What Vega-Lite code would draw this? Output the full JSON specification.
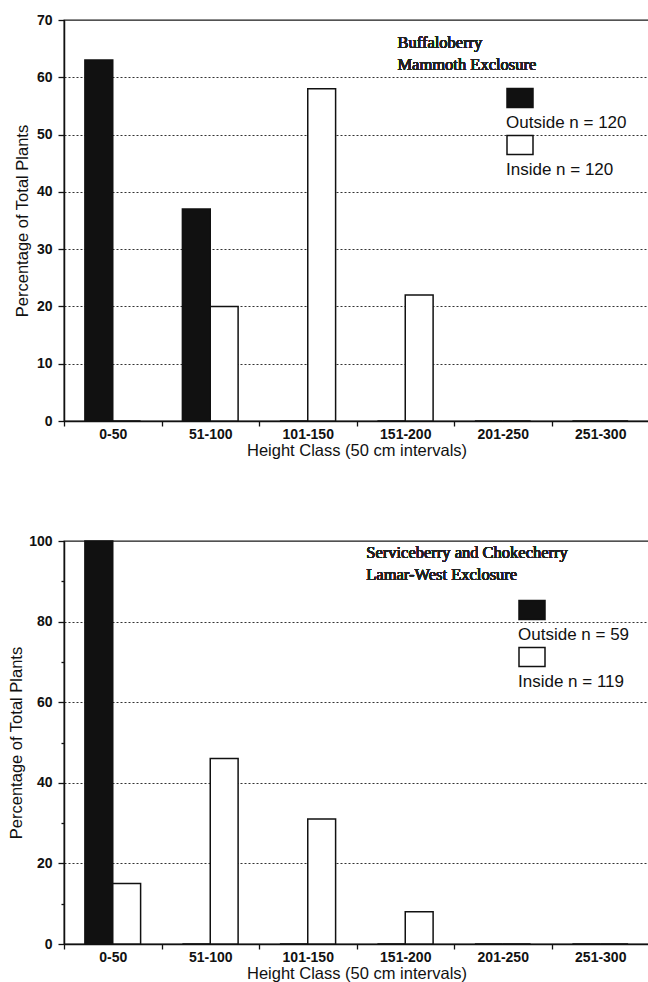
{
  "$schema": "https://vega.github.io/schema/vega-lite/v6.json",
  "padding": {"left": 7, "top": 12, "right": 0, "bottom": 0},
  "background": "white",
  "config": {
    "font": "Liberation Sans",
    "view": {"stroke": "#1a1a1a", "strokeWidth": 1.3},
    "axis": {
      "domainColor": "#111", "domainWidth": 1.5,
      "tickColor": "#111", "tickWidth": 1.3,
      "labelColor": "#111", "titleColor": "#111",
      "labelFont": "Liberation Sans", "labelFontSize": 14, "labelFontWeight": "bold",
      "titleFont": "Liberation Sans", "titleFontSize": 16.5, "titleFontWeight": "normal"
    }
  },
  "datasets": {
    "buffaloberry": [
      {"cls": "0-50", "group": "Outside", "pct": 63},
      {"cls": "0-50", "group": "Inside", "pct": 0},
      {"cls": "51-100", "group": "Outside", "pct": 37},
      {"cls": "51-100", "group": "Inside", "pct": 20},
      {"cls": "101-150", "group": "Outside", "pct": 0},
      {"cls": "101-150", "group": "Inside", "pct": 58},
      {"cls": "151-200", "group": "Outside", "pct": 0},
      {"cls": "151-200", "group": "Inside", "pct": 22},
      {"cls": "201-250", "group": "Outside", "pct": 0},
      {"cls": "201-250", "group": "Inside", "pct": 0},
      {"cls": "251-300", "group": "Outside", "pct": 0},
      {"cls": "251-300", "group": "Inside", "pct": 0}
    ],
    "serviceberry": [
      {"cls": "0-50", "group": "Outside", "pct": 100},
      {"cls": "0-50", "group": "Inside", "pct": 15},
      {"cls": "51-100", "group": "Outside", "pct": 0},
      {"cls": "51-100", "group": "Inside", "pct": 46},
      {"cls": "101-150", "group": "Outside", "pct": 0},
      {"cls": "101-150", "group": "Inside", "pct": 31},
      {"cls": "151-200", "group": "Outside", "pct": 0},
      {"cls": "151-200", "group": "Inside", "pct": 8},
      {"cls": "201-250", "group": "Outside", "pct": 0},
      {"cls": "201-250", "group": "Inside", "pct": 0},
      {"cls": "251-300", "group": "Outside", "pct": 0},
      {"cls": "251-300", "group": "Inside", "pct": 0}
    ]
  },
  "spacing": 73,
  "resolve": {
    "scale": {"color": "independent", "x": "independent", "y": "independent", "xOffset": "independent"},
    "legend": {"color": "independent"}
  },
  "vconcat": [
    {
      "width": 585,
      "height": 401,
      "data": {"name": "buffaloberry"},
      "layer": [
        {
          "mark": {"type": "bar", "stroke": "#111", "strokeWidth": 1.5, "opacity": 1},
          "encoding": {
            "x": {
              "field": "cls", "type": "nominal",
              "sort": ["0-50", "51-100", "101-150", "151-200", "201-250", "251-300"],
              "scale": {"paddingInner": 0, "paddingOuter": 0},
              "title": "Height Class (50 cm intervals)",
              "axis": {"tickBand": "extent", "tickSize": 5, "labelPadding": 1, "labelAngle": 0, "titlePadding": 1, "grid": false}
            },
            "xOffset": {
              "field": "group", "type": "nominal", "sort": ["Outside", "Inside"],
              "scale": {"paddingInner": 0, "paddingOuter": 0.75}
            },
            "y": {
              "field": "pct", "type": "quantitative",
              "scale": {"domain": [0, 70], "nice": false},
              "title": "Percentage of Total Plants",
              "axis": {
                "values": [0, 5, 10, 15, 20, 25, 30, 35, 40, 45, 50, 55, 60, 65, 70],
                "labelExpr": "datum.value % 10 === 0 ? datum.label : ''",
                "tickSize": {"condition": {"test": "datum.value % 10 === 0", "value": 6}, "value": 3},
                "labelPadding": 6, "titlePadding": 6,
                "grid": true, "gridDash": [2, 2], "gridColor": "#333", "gridWidth": 1,
                "gridOpacity": {"condition": {"test": "datum.value % 10 === 0 && datum.value > 0 && datum.value < 70", "value": 1}, "value": 0}
              }
            },
            "color": {
              "field": "group", "type": "nominal", "sort": ["Outside", "Inside"],
              "scale": {"domain": ["Outside", "Inside"], "range": ["#111111", "#ffffff"]},
              "legend": {
                "orient": "none", "legendX": 442, "legendY": 64,
                "title": null, "padding": 0,
                "symbolType": "M-1,-0.73H1V0.73H-1Z", "symbolSize": 676,
                "symbolStrokeColor": "#111", "symbolStrokeWidth": 1.5, "symbolOpacity": 1,
                "labelFont": "Liberation Sans", "labelFontSize": 17, "labelColor": "#111",
                "labelBaseline": "alphabetic", "labelOffset": -28, "rowPadding": -5,
                "labelExpr": "datum.label === 'Outside' ? 'Outside n = 120' : 'Inside n = 120'",
                "encode": {"labels": {"update": {"dy": {"value": 29.5}}}}
              }
            }
          }
        },
        {
          "mark": {"type": "text", "align": "left", "baseline": "alphabetic", "font": "Liberation Serif", "fontWeight": "normal", "fontSize": 16.5, "lineHeight": 21.5, "fill": "#222"},
          "encoding": {
            "x": {"datum": "151-200", "bandPosition": 0.42},
            "y": {"datum": 65.1},
            "text": {"value": ["Buffaloberry", "Mammoth Exclosure"]}
          }
        }
      ]
    },
    {
      "width": 585,
      "height": 403,
      "data": {"name": "serviceberry"},
      "layer": [
        {
          "mark": {"type": "bar", "stroke": "#111", "strokeWidth": 1.5, "opacity": 1},
          "encoding": {
            "x": {
              "field": "cls", "type": "nominal",
              "sort": ["0-50", "51-100", "101-150", "151-200", "201-250", "251-300"],
              "scale": {"paddingInner": 0, "paddingOuter": 0},
              "title": "Height Class (50 cm intervals)",
              "axis": {"tickBand": "extent", "tickSize": 5, "labelPadding": 1, "labelAngle": 0, "titlePadding": 1, "grid": false}
            },
            "xOffset": {
              "field": "group", "type": "nominal", "sort": ["Outside", "Inside"],
              "scale": {"paddingInner": 0, "paddingOuter": 0.75}
            },
            "y": {
              "field": "pct", "type": "quantitative",
              "scale": {"domain": [0, 100], "nice": false},
              "title": "Percentage of Total Plants",
              "axis": {
                "values": [0, 10, 20, 30, 40, 50, 60, 70, 80, 90, 100],
                "labelExpr": "datum.value % 20 === 0 ? datum.label : ''",
                "tickSize": {"condition": {"test": "datum.value % 20 === 0", "value": 6}, "value": 3},
                "labelPadding": 6, "titlePadding": 4,
                "grid": true, "gridDash": [2, 2], "gridColor": "#333", "gridWidth": 1,
                "gridOpacity": {"condition": {"test": "datum.value % 20 === 0 && datum.value > 0 && datum.value < 100", "value": 1}, "value": 0}
              }
            },
            "color": {
              "field": "group", "type": "nominal", "sort": ["Outside", "Inside"],
              "scale": {"domain": ["Outside", "Inside"], "range": ["#111111", "#ffffff"]},
              "legend": {
                "orient": "none", "legendX": 454, "legendY": 55,
                "title": null, "padding": 0,
                "symbolType": "M-1,-0.73H1V0.73H-1Z", "symbolSize": 676,
                "symbolStrokeColor": "#111", "symbolStrokeWidth": 1.5, "symbolOpacity": 1,
                "labelFont": "Liberation Sans", "labelFontSize": 17, "labelColor": "#111",
                "labelBaseline": "alphabetic", "labelOffset": -28, "rowPadding": -5,
                "labelExpr": "datum.label === 'Outside' ? 'Outside n = 59' : 'Inside n = 119'",
                "encode": {"labels": {"update": {"dy": {"value": 29.5}}}}
              }
            }
          }
        },
        {
          "mark": {"type": "text", "align": "left", "baseline": "alphabetic", "font": "Liberation Serif", "fontWeight": "normal", "fontSize": 16.5, "lineHeight": 22, "fill": "#222"},
          "encoding": {
            "x": {"datum": "151-200", "bandPosition": 0.1},
            "y": {"datum": 95.8},
            "text": {"value": ["Serviceberry and Chokecherry", "Lamar-West Exclosure"]}
          }
        }
      ]
    }
  ]
}
